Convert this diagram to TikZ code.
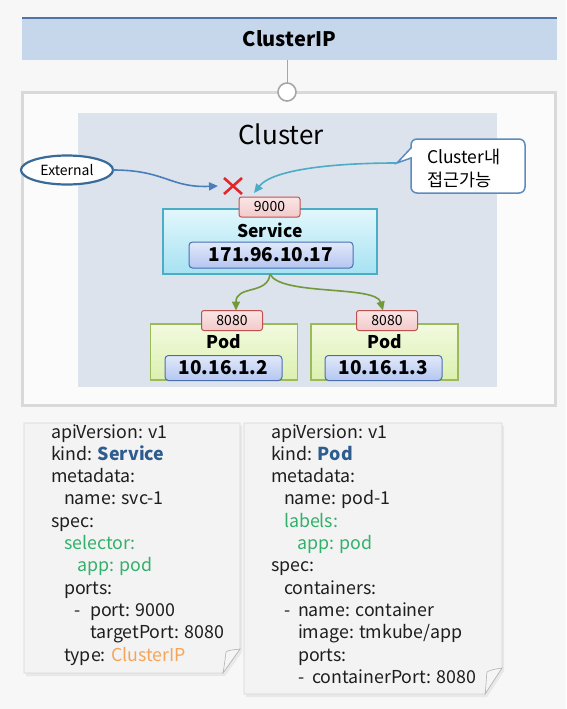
\documentclass[tikz,border=0pt]{standalone}
\usepackage{fontspec}
\setmainfont{Noto Sans CJK KR}
\usetikzlibrary{arrows.meta,shapes.geometric,calc}
\definecolor{bgc}{HTML}{F7F7F7}
\definecolor{outerc}{HTML}{D9D9D9}
\definecolor{outerfill}{HTML}{FBFBFB}
\definecolor{clusterc}{HTML}{DCE3EC}
\definecolor{hdrfill}{HTML}{C6D7EC}
\definecolor{hdrline}{HTML}{4F74A8}
\definecolor{svctop}{HTML}{E2F7FC}
\definecolor{svcbot}{HTML}{A6E2F2}
\definecolor{svcline}{HTML}{4BACC6}
\definecolor{iptop}{HTML}{E2E9FA}
\definecolor{ipbot}{HTML}{B4C6F0}
\definecolor{ipline}{HTML}{4A6FB0}
\definecolor{podtop}{HTML}{F2FAE0}
\definecolor{podbot}{HTML}{DCF0B0}
\definecolor{podline}{HTML}{9BBB59}
\definecolor{porttop}{HTML}{FBE5E5}
\definecolor{portbot}{HTML}{F2CACA}
\definecolor{portline}{HTML}{C0504D}
\definecolor{xred}{HTML}{E3262A}
\definecolor{extblue}{HTML}{4A7EBB}
\definecolor{ellline}{HTML}{3A6A98}
\definecolor{cyanarr}{HTML}{4BACC6}
\definecolor{grarr}{HTML}{73993A}
\definecolor{kindblue}{HTML}{2F5C8F}
\definecolor{ygreen}{HTML}{33B06A}
\definecolor{yorange}{HTML}{F5A55A}
\definecolor{notefill}{HTML}{F3F3F3}
\definecolor{noteline}{HTML}{D6D6D6}
\definecolor{callline}{HTML}{5B8BC0}
\definecolor{ytext}{HTML}{1E1E1E}
\begin{document}
\begin{tikzpicture}[x=1pt,y=-1pt,
  every node/.style={inner sep=0pt, outer sep=0pt},
  hdrbox/.style={fill=hdrfill, minimum width=535pt, minimum height=42pt, font=\fontsize{20}{23}\selectfont\bfseries},
  outerbox/.style={draw=outerc, line width=3.5pt, fill=outerfill},
  clusterbox/.style={fill=clusterc},
  portbox/.style={draw=portline, line width=1pt, top color=porttop, bottom color=portbot, rounded corners=2.5pt, minimum width=61pt, minimum height=20pt, font=\fontsize{14}{16}\selectfont},
  svcbox/.style={draw=svcline, line width=1.2pt, top color=svctop, bottom color=svcbot, minimum width=214pt, minimum height=65pt},
  podbox/.style={draw=podline, line width=1.2pt, top color=podtop, bottom color=podbot, minimum width=147pt, minimum height=56pt},
  ipbox/.style={draw=ipline, line width=1pt, top color=iptop, bottom color=ipbot, rounded corners=3.5pt, font=\fontsize{19}{22}\selectfont\bfseries},
  boxtitle/.style={font=\fontsize{17.5}{20}\selectfont\bfseries},
  yaml/.style={anchor=base west, text=ytext, font=\fontsize{17.8}{20}\selectfont},
  notebody/.style={fill=notefill, draw=noteline, line width=0.8pt},
  noteshadow/.style={fill=black!9},
  flap/.style={fill=white!96!black, draw=black!30, line width=0.6pt},
  arrtip/.style={-{Triangle[length=9pt,width=8pt]}},
]
\fill[bgc] (0,0) rectangle (566,709);
\useasboundingbox (0,0) rectangle (566,709);

% header
\node[hdrbox] (hdr) at (289.5,39) {ClusterIP};
\draw[hdrline, line width=2pt] (hdr.north west) -- (hdr.north east);

% outer box & cluster
\node[outerbox, minimum width=533pt, minimum height=313pt] (outer) at (289,249) {};
\node[clusterbox, minimum width=419pt, minimum height=274pt] (cluster) at (287.5,250) {};
\node[fill=white, draw=black!35, line width=1.6pt, circle, minimum size=18pt] (ring) at (287,92) {};
\draw[black!35, line width=1pt] (ring |- hdr.south) -- (ring.north);
\node[font=\fontsize{26}{30}\selectfont] (clabel) at (281,134) {Cluster};

% external
\node[ellipse, draw=ellline, line width=2.2pt, fill=white, minimum width=92pt, minimum height=29pt, font=\fontsize{14}{16}\selectfont] (ext) at (67,170) {External};
\coordinate (xc) at (233,186);
\coordinate (xtgt) at (218,186);
\draw[extblue, line width=1.6pt, arrtip] (ext.east) .. controls (165,170) and (170,188) .. (xtgt);
\draw[xred, line width=2.6pt] ($(xc)+(-9,-8)$) -- ($(xc)+(9,8)$) ($(xc)+(9,-8)$) -- ($(xc)+(-9,8)$);

% callout
\draw[callline, line width=1.5pt, fill=white] (411,158) [rounded corners=6pt] -- (411,193) -- (525,193) -- (525,139) -- (411,139) [sharp corners] -- (411,148) -- (397,163) -- cycle;
\node[font=\fontsize{17.5}{23}\selectfont, align=left, anchor=west] (callout) at (427,168) {Cluster내\\접근가능};
\coordinate (ctip) at (397,163);
\coordinate (ctgt) at (254,193);
\draw[cyanarr, line width=1.6pt, arrtip] (ctip) .. controls (330,163) and (272,170) .. (ctgt);

% service
\node[svcbox] (svc) at (270,241.5) {};
\node[portbox] (p9000) at (269.5,207) {9000};
\node[boxtitle] (svct) at (270,230) {Service};
\node[ipbox, minimum width=164pt, minimum height=26pt] (svcip) at (271,255) {171.96.10.17};

% pods
\node[podbox] (pod1) at (224,352) {};
\node[portbox] (p8080a) at (232,320.5) {8080};
\node[boxtitle] (pod1t) at (224,342) {Pod};
\node[ipbox, minimum width=117pt, minimum height=25pt] (pod1ip) at (223.5,368) {10.16.1.2};

\node[podbox] (pod2) at (384.5,352) {};
\node[portbox] (p8080b) at (387,320.5) {8080};
\node[boxtitle] (pod2t) at (385,342) {Pod};
\node[ipbox, minimum width=117pt, minimum height=25pt] (pod2ip) at (383.5,368) {10.16.1.3};

\draw[grarr, line width=1.6pt, arrtip] (svc.south) .. controls (268,295) and (236,285) .. ([xshift=4pt]p8080a.north);
\draw[grarr, line width=1.6pt, arrtip] (svc.south) .. controls (280,296) and (376,285) .. ([xshift=-4pt]p8080b.north);

% left note
\fill[noteshadow] (26,426) -- (242,426) -- (242,652) -- (225,676) -- (26,676) -- cycle;
\draw[notebody] (24,423) -- (240,423) -- (240,649) -- (223,673) -- (24,673) -- cycle;
\draw[flap] (240,649) .. controls (233,650) and (228,650) .. (226,652) .. controls (225,660) and (224,668) .. (223,673) -- cycle;

% right note
\fill[noteshadow] (246,426) -- (504,426) -- (504,671) -- (487,697) -- (246,697) -- cycle;
\draw[notebody] (244,423) -- (502,423) -- (502,668) -- (485,694) -- (244,694) -- cycle;
\draw[flap] (502,668) .. controls (495,669) and (490,670) .. (487,672) .. controls (486,680) and (486,688) .. (485,694) -- cycle;

% left yaml
\node[yaml] (l1) at (51,438) {apiVersion: v1};
\node[yaml] (l2) at (51,460.3) {kind: \textcolor{kindblue}{\bfseries Service}};
\node[yaml] (l3) at (51,482.6) {metadata:};
\node[yaml] (l4) at (64,504.9) {name: svc-1};
\node[yaml] (l5) at (51,527.2) {spec:};
\node[yaml, text=ygreen] (l6) at (64,549.5) {selector:};
\node[yaml, text=ygreen] (l7) at (77,571.8) {app: pod};
\node[yaml] (l8) at (64,594.1) {ports:};
\node[yaml] (l9a) at (74,616.4) {-};
\node[yaml] (l9) at (90,616.4) {port: 9000};
\node[yaml] (l10) at (90,638.7) {targetPort: 8080};
\node[yaml] (l11) at (64,661) {type: \textcolor{yorange}{ClusterIP}};

% right yaml
\node[yaml] (r1) at (271,438) {apiVersion: v1};
\node[yaml] (r2) at (271,460.3) {kind: \textcolor{kindblue}{\bfseries Pod}};
\node[yaml] (r3) at (271,482.6) {metadata:};
\node[yaml] (r4) at (284,504.9) {name: pod-1};
\node[yaml, text=ygreen] (r5) at (284,527.2) {labels:};
\node[yaml, text=ygreen] (r6) at (297,549.5) {app: pod};
\node[yaml] (r7) at (271,571.8) {spec:};
\node[yaml] (r8) at (284,594.1) {containers:};
\node[yaml] (r9a) at (284,616.4) {-};
\node[yaml] (r9) at (298,616.4) {name: container};
\node[yaml] (r10) at (298,638.7) {image: tmkube/app};
\node[yaml] (r11) at (298,661) {ports:};
\node[yaml] (r12a) at (298,683.3) {-};
\node[yaml] (r12) at (312,683.3) {containerPort: 8080};
\end{tikzpicture}
\end{document}
